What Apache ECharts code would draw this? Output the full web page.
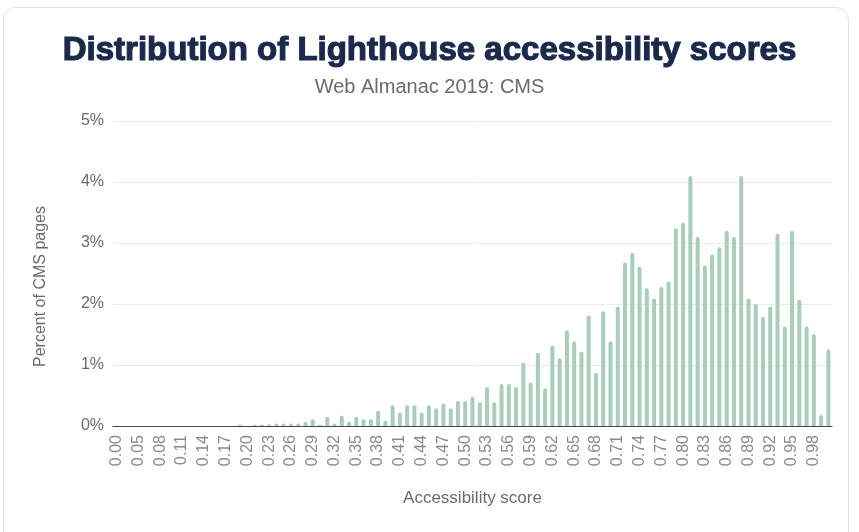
<!DOCTYPE html>
<html>
<head>
<meta charset="utf-8">
<script src="https://cdn.jsdelivr.net/npm/echarts@6/dist/echarts.min.js"></script>
<style>
html,body{margin:0;padding:0;background:#fff;}
#chart{width:859px;height:532px;}
</style>
</head>
<body>
<div id="chart"></div>
<script>
var titleText = 'Distribution of Lighthouse accessibility scores';
var subtitleText = 'Web Almanac 2019: CMS';
var xAxisName = 'Accessibility score';
var yAxisName = 'Percent of CMS pages';

var categories = ['0.00','0.03','0.04','0.05','0.06','0.07','0.08','0.09','0.10','0.11','0.12','0.13','0.14','0.15','0.16','0.17','0.18','0.19','0.20','0.21','0.22','0.23','0.24','0.25','0.26','0.27','0.28','0.29','0.30','0.31','0.32','0.33','0.34','0.35','0.36','0.37','0.38','0.39','0.40','0.41','0.42','0.43','0.44','0.45','0.46','0.47','0.48','0.49','0.50','0.51','0.52','0.53','0.54','0.55','0.56','0.57','0.58','0.59','0.60','0.61','0.62','0.63','0.64','0.65','0.66','0.67','0.68','0.69','0.70','0.71','0.72','0.73','0.74','0.75','0.76','0.77','0.78','0.79','0.80','0.81','0.82','0.83','0.84','0.85','0.86','0.87','0.88','0.89','0.90','0.91','0.92','0.93','0.94','0.95','0.96','0.97','0.98','0.99','1.00'];

var percentValues = [0,0,0,0,0,0,0,0,0,0,0,0,0,0,0,0,0,0.02,0,0.02,0.02,0.03,0.04,0.04,0.04,0.04,0.07,0.11,0.02,0.15,0.04,0.17,0.07,0.15,0.11,0.11,0.25,0.09,0.34,0.22,0.34,0.34,0.22,0.34,0.29,0.37,0.29,0.41,0.41,0.48,0.39,0.64,0.39,0.69,0.69,0.64,1.04,0.71,1.20,0.62,1.32,1.11,1.57,1.39,1.22,1.81,0.87,1.88,1.39,1.96,2.68,2.84,2.61,2.26,2.09,2.28,2.37,3.24,3.33,4.10,3.10,2.63,2.81,2.93,3.20,3.10,4.10,2.09,2.00,1.79,1.96,3.15,1.63,3.20,2.07,1.63,1.51,0.18,1.26];

var yTicks = [0,1,2,3,4,5];

var FONT = 'Liberation Sans, Arial, Helvetica, sans-serif';
var chart = echarts.init(document.getElementById('chart'), null, {renderer:'canvas'});
chart.setOption({
  animation:false,
  backgroundColor:'#fff',
  graphic:[{
    type:'rect', z:-10,
    shape:{x:3.5,y:7.5,width:845,height:560,r:12},
    style:{fill:'#fff',stroke:'#e3e3e3',lineWidth:1}
  }],
  title:[{
    text:titleText, left:'center', top:29,
    textStyle:{fontFamily:FONT,fontWeight:'bold',fontSize:33,color:'#1b2a4a',
      textBorderColor:'#1b2a4a',textBorderWidth:1.2}
  },{
    text:subtitleText, left:'center', top:72,
    textStyle:{fontFamily:FONT,fontWeight:'normal',fontSize:20,color:'#6b6b6b'}
  }],
  grid:{left:113,right:27,top:121,bottom:106,containLabel:false},
  xAxis:{
    type:'category', data:categories,
    name:xAxisName, nameLocation:'middle', nameGap:64,
    nameTextStyle:{fontFamily:FONT,fontSize:17,color:'#6b6b6b'},
    axisLine:{lineStyle:{color:'#4a4a4a',width:1}},
    axisTick:{show:false},
    axisLabel:{interval:2, rotate:90, fontFamily:FONT, fontSize:16, color:'#8a8a8a', margin:9}
  },
  yAxis:{
    type:'value', min:yTicks[0], max:yTicks[yTicks.length-1], interval:1,
    name:yAxisName, nameLocation:'middle', nameGap:64,
    nameTextStyle:{fontFamily:FONT,fontSize:16,color:'#6b6b6b',padding:[0,26,0,0]},
    axisLine:{show:false}, axisTick:{show:false},
    splitLine:{lineStyle:{color:'#ebebeb',width:1}},
    axisLabel:{formatter:'{value}%', fontFamily:FONT, fontSize:16, color:'#6b6b6b', margin:9}
  },
  series:[{
    type:'bar', data:percentValues, barWidth:'55%',
    itemStyle:{color:'#a8cdb9', borderRadius:[2,2,0,0]}
  }]
});
</script>
</body>
</html>
